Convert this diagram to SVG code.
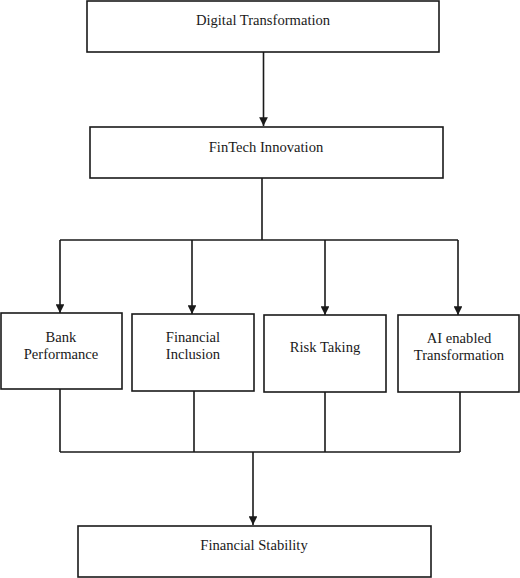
<svg xmlns="http://www.w3.org/2000/svg" width="520" height="578" viewBox="0 0 520 578">
<style>
rect{fill:#fff;stroke:#1a1a1a;stroke-width:1.6}
text{font-family:'Liberation Serif','Times New Roman',serif;font-size:14.6px;fill:#1a1a1a;text-anchor:middle}
.c{fill:none;stroke:#1a1a1a;stroke-width:1.6}
</style>
<defs>
<marker id="ah" viewBox="0 0 10 10" refX="10" refY="5" markerWidth="5.5" markerHeight="5.5" markerUnits="strokeWidth" orient="auto">
<path d="M0,0 L10,5 L0,10 Z" fill="#1a1a1a"/>
</marker>
</defs>
<rect width="520" height="578" style="fill:#fff;stroke:none"/>
<g id="connectors">
<path class="c" d="M263.5,52 V126" marker-end="url(#ah)"/>
<path class="c" d="M262,178 V240 M60,240 H458"/>
<path class="c" d="M60,240 V313" marker-end="url(#ah)"/>
<path class="c" d="M192,240 V314" marker-end="url(#ah)"/>
<path class="c" d="M325,240 V315" marker-end="url(#ah)"/>
<path class="c" d="M458,240 V315" marker-end="url(#ah)"/>
<path class="c" d="M60,389 V452 M194,391 V452 M325,392 V452 M460,392 V452 M60,452 H460"/>
<path class="c" d="M253,452 V525" marker-end="url(#ah)"/>
</g>
<g id="n1"><rect x="87" y="1" width="352" height="51"/><text x="263" y="25">Digital Transformation</text></g>
<g id="n2"><rect x="90" y="127" width="353" height="51"/><text x="266" y="152">FinTech Innovation</text></g>
<g id="n3"><rect x="1" y="313" width="121" height="76"/><text x="61" y="342">Bank</text><text x="61" y="359">Performance</text></g>
<g id="n4"><rect x="132" y="314" width="122" height="77"/><text x="193" y="342">Financial</text><text x="193" y="359">Inclusion</text></g>
<g id="n5"><rect x="264" y="315" width="122" height="77"/><text x="325" y="352">Risk Taking</text></g>
<g id="n6"><rect x="398" y="315" width="121" height="77"/><text x="459" y="343">AI enabled</text><text x="459" y="360">Transformation</text></g>
<g id="n7"><rect x="78" y="526" width="353" height="51"/><text x="254" y="550">Financial Stability</text></g>
</svg>
